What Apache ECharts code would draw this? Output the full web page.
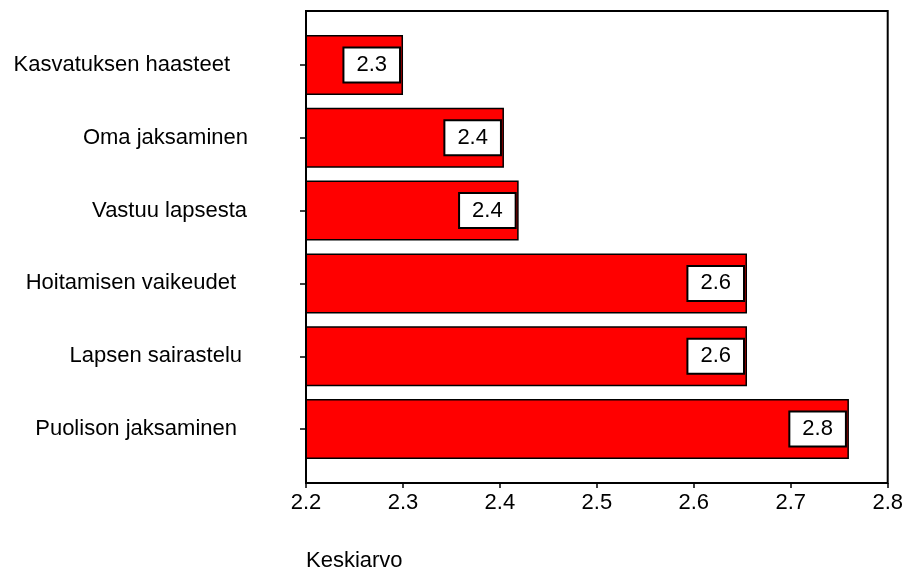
<!DOCTYPE html>
<html>
<head>
<meta charset="utf-8">
<script src="https://cdn.jsdelivr.net/npm/echarts@6/dist/echarts.min.js"></script>
<style>
html,body{margin:0;padding:0;background:#fff;}
#chart{width:906px;height:571px;}
</style>
</head>
<body>
<div id="chart"></div>
<script>
var categories = ['Kasvatuksen haasteet', 'Oma jaksaminen', 'Vastuu lapsesta', 'Hoitamisen vaikeudet', 'Lapsen sairastelu', 'Puolison jaksaminen'];
var values = [2.299, 2.402, 2.417, 2.650, 2.650, 2.754];
var valueLabels = ['2.3', '2.4', '2.4', '2.6', '2.6', '2.8'];
var xTickMin = 2.2, xTickMax = 2.8, xTickStep = 0.1;
var axisTitle = 'Keskiarvo';

// per-label right indent (style only), mimicking the original label alignment
var labelIndent = [18, 0, 1, 12, 6, 11];

var FONT = '"Liberation Sans", Arial, Helvetica, sans-serif';
var rich = {};
labelIndent.forEach(function (p, i) {
  rich['r' + i] = {fontSize: 22, color: '#000', fontFamily: FONT, padding: [0, p, 0, 0]};
});

var chart = echarts.init(document.getElementById('chart'), null, {renderer: 'canvas'});
chart.setOption({
  animation: false,
  backgroundColor: '#fff',
  title: {
    text: axisTitle, left: 306, top: 550, padding: 0,
    textStyle: {fontSize: 22, fontWeight: 'normal', color: '#000', fontFamily: FONT}
  },
  grid: [
    {left: 306, right: 12, top: 28.5, bottom: 105.5, containLabel: false},
    {left: 306, right: 12, top: 11, bottom: 88, show: true, borderColor: '#000', borderWidth: 2, backgroundColor: 'transparent', z: 10}
  ],
  xAxis: [
    {type: 'value', gridIndex: 0, min: xTickMin, max: xTickMax, interval: xTickStep, show: false},
    {type: 'value', gridIndex: 1, min: xTickMin, max: xTickMax, interval: xTickStep,
     axisLine: {show: false}, splitLine: {show: false},
     axisTick: {show: true, length: 5, lineStyle: {color: '#000', width: 1.5}},
     axisLabel: {show: true, showMaxLabel: true, showMinLabel: true, margin: 9, fontSize: 22, color: '#000', fontFamily: FONT,
       formatter: function (v) { return v.toFixed(1); }}}
  ],
  yAxis: [
    {type: 'category', gridIndex: 0, data: categories, inverse: true,
     axisLine: {show: false},
     axisTick: {show: true, alignWithLabel: true, length: 6, lineStyle: {color: '#000', width: 1.5}},
     axisLabel: {margin: 58, fontSize: 22, color: '#000', fontFamily: FONT, rich: rich,
       formatter: function (v, i) { return '{r' + i + '|' + v + '}'; }}},
    {type: 'value', gridIndex: 1, show: false, min: 0, max: 1}
  ],
  series: [{
    type: 'bar', xAxisIndex: 0, yAxisIndex: 0,
    data: values, barWidth: 60,
    itemStyle: {color: '#ff0000', borderColor: '#000', borderWidth: 1.5},
    label: {
      show: true, position: 'insideRight', distance: 4,
      formatter: function (p) { return valueLabels[p.dataIndex]; },
      backgroundColor: '#fff', borderColor: '#000', borderWidth: 2,
      padding: [6, 12, 5, 12], fontSize: 22, lineHeight: 22, color: '#000', fontFamily: FONT
    }
  }]
});
</script>
</body>
</html>
